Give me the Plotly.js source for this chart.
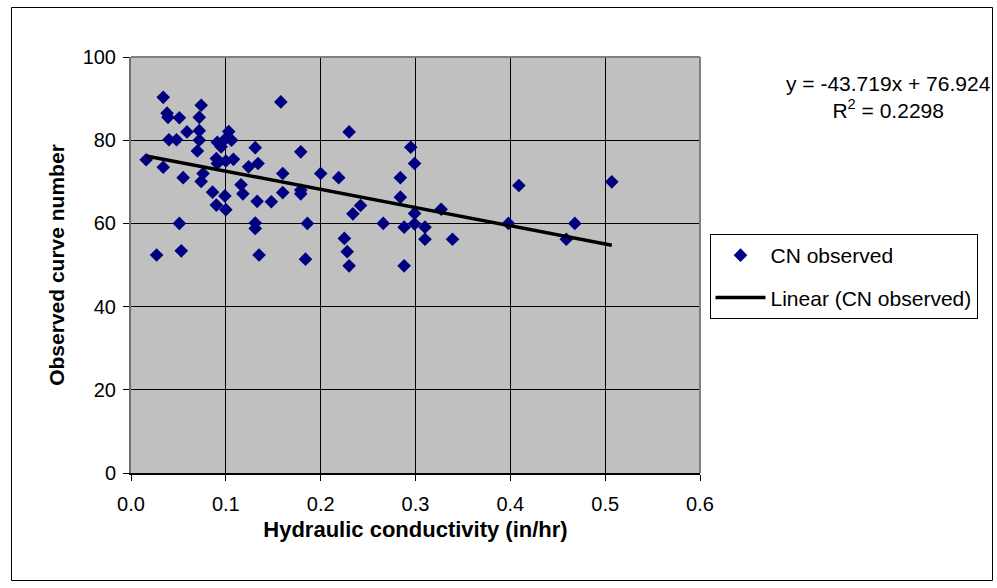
<!DOCTYPE html>
<html><head><meta charset="utf-8">
<script src="https://cdn.plot.ly/plotly-3.0.1.min.js"></script>
<style>html,body{margin:0;padding:0;background:#fff}#chart{width:997px;height:588px}</style>
</head><body><div id="chart"></div>
<script>
// Data
const conductivity = [
  0.034,0.074,0.038,0.039,0.051,0.072,0.059,0.072,0.103,0.040,
  0.048,0.072,0.091,0.100,0.106,0.095,0.131,0.070,0.016,0.090,
  0.091,0.100,0.108,0.034,0.076,0.055,0.074,0.124,0.134,0.086,
  0.099,0.116,0.118,0.133,0.090,0.100,0.051,0.131,0.131,0.027,
  0.053,0.135,0.230,0.295,0.179,0.299,0.160,0.200,0.219,0.284,
  0.179,0.179,0.160,0.148,0.284,0.242,0.234,0.327,0.299,0.186,
  0.266,0.288,0.299,0.310,0.225,0.310,0.339,0.228,0.184,0.230,
  0.288,0.409,0.507,0.398,0.468,0.459,0.158
];
const curveNumber = [
  90.3,88.4,86.5,85.5,85.4,85.5,82.0,82.3,82.1,80.1,
  80.1,80.0,79.5,80.4,80.0,78.4,78.2,77.4,75.3,75.6,
  74.4,75.0,75.4,73.5,72.0,71.0,70.1,73.6,74.4,67.5,
  66.6,69.3,67.1,65.3,64.4,63.3,60.0,60.1,58.8,52.4,
  53.4,52.4,82.0,78.3,77.2,74.4,72.0,72.0,71.0,71.0,
  68.0,67.1,67.4,65.2,66.3,64.3,62.3,63.4,62.4,60.0,
  60.0,59.1,59.9,59.1,56.4,56.2,56.2,53.2,51.4,49.8,
  49.8,69.1,70.0,60.0,60.0,56.2,89.2
];
const trendSlope = -43.719;
const trendIntercept = 76.924;
const rSquared = 0.2298;
const xTicks = [0, 0.1, 0.2, 0.3, 0.4, 0.5, 0.6];
const xTickLabels = ["0.0", "0.1", "0.2", "0.3", "0.4", "0.5", "0.6"];
const yTicks = [0, 20, 40, 60, 80, 100];
const seriesName = "CN observed";
const trendName = "Linear (CN observed)";
const xTitle = "Hydraulic conductivity (in/hr)";
const yTitle = "Observed curve number";

// Trend line from the fitted equation over the data range
const xMin = Math.min(...conductivity);
const xMax = Math.max(...conductivity);
const trendX = [xMin, xMax];
const trendY = trendX.map(v => trendSlope * v + trendIntercept);

const FONT = '"Liberation Sans", Arial, sans-serif';
const M = {l: 131, r: 297, t: 57, b: 115};
const W = 997, H = 588;
const pw = W - M.l - M.r, ph = H - M.t - M.b;
const px = v => (v - M.l) / pw;
const py = v => (H - M.b - v) / ph;

const traces = [
  {
    type: 'scatter', mode: 'markers', name: seriesName,
    x: conductivity, y: curveNumber,
    marker: {symbol: 'diamond', size: 10.5, color: '#000080', line: {width: 0}},
    legendgroup: 'a', cliponaxis: false
  },
  {
    type: 'scatter', mode: 'lines', name: trendName,
    x: trendX, y: trendY,
    line: {color: '#000000', width: 3.5},
    legendgroup: 'b'
  }
];

const layout = {
  width: W, height: H,
  margin: M,
  paper_bgcolor: '#ffffff',
  plot_bgcolor: '#c0c0c0',
  font: {family: FONT, size: 20, color: '#000'},
  showlegend: true,
  legend: {
    x: px(709.5), y: py(234), xanchor: 'left', yanchor: 'top',
    bgcolor: '#ffffff', bordercolor: '#000000', borderwidth: 1,
    font: {family: FONT, size: 21, color: '#000'},
    traceorder: 'grouped', tracegroupgap: 12, itemwidth: 50
  },
  xaxis: {
    range: [0, 0.6], tickvals: xTicks, ticktext: xTickLabels,
    showgrid: true, gridcolor: '#000', gridwidth: 1, zeroline: false,
    showline: true, linecolor: '#000', linewidth: 1.5,
    ticks: 'outside', ticklen: 6, tickcolor: '#000', tickwidth: 1,
    ticklabelstandoff: 6,
    tickfont: {family: FONT, size: 20, color: '#000'},
    title: {text: xTitle, font: {family: FONT, size: 22, weight: 'bold', color: '#000'}, standoff: 8},
    fixedrange: true
  },
  yaxis: {
    range: [0, 100], tickvals: yTicks,
    showgrid: true, gridcolor: '#000', gridwidth: 1, zeroline: false,
    showline: true, linecolor: '#707070', linewidth: 2,
    ticks: 'outside', ticklen: 6, tickcolor: '#000', tickwidth: 1,
    ticklabelstandoff: 3,
    tickfont: {family: FONT, size: 20, color: '#000'},
    title: {text: yTitle, font: {family: FONT, size: 21, weight: 'bold', color: '#000'}, standoff: 12},
    fixedrange: true
  },
  shapes: [
    {type: 'line', xref: 'paper', yref: 'paper', x0: 0, x1: 1, y0: 1, y1: 1, line: {color: '#808080', width: 2}},
    {type: 'line', xref: 'paper', yref: 'paper', x0: 1, x1: 1, y0: 0, y1: 1, line: {color: '#808080', width: 2}},
    {type: 'rect', xref: 'paper', yref: 'paper', x0: px(11.5), x1: px(992.5), y0: py(580.5), y1: py(7.5),
     line: {color: '#000', width: 1}, fillcolor: 'rgba(0,0,0,0)'}
  ],
  annotations: [
    {xref: 'paper', yref: 'paper', x: px(888), y: py(97), xanchor: 'center', yanchor: 'middle',
     text: 'y = ' + trendSlope.toFixed(3) + 'x + ' + trendIntercept.toFixed(3) + '<br>R<sup>2</sup> = ' + rSquared.toFixed(4),
     showarrow: false, align: 'center', font: {family: FONT, size: 21, color: '#000'}}
  ]
};

Plotly.newPlot('chart', traces, layout, {displayModeBar: false, staticPlot: true});
</script>
</body></html>
